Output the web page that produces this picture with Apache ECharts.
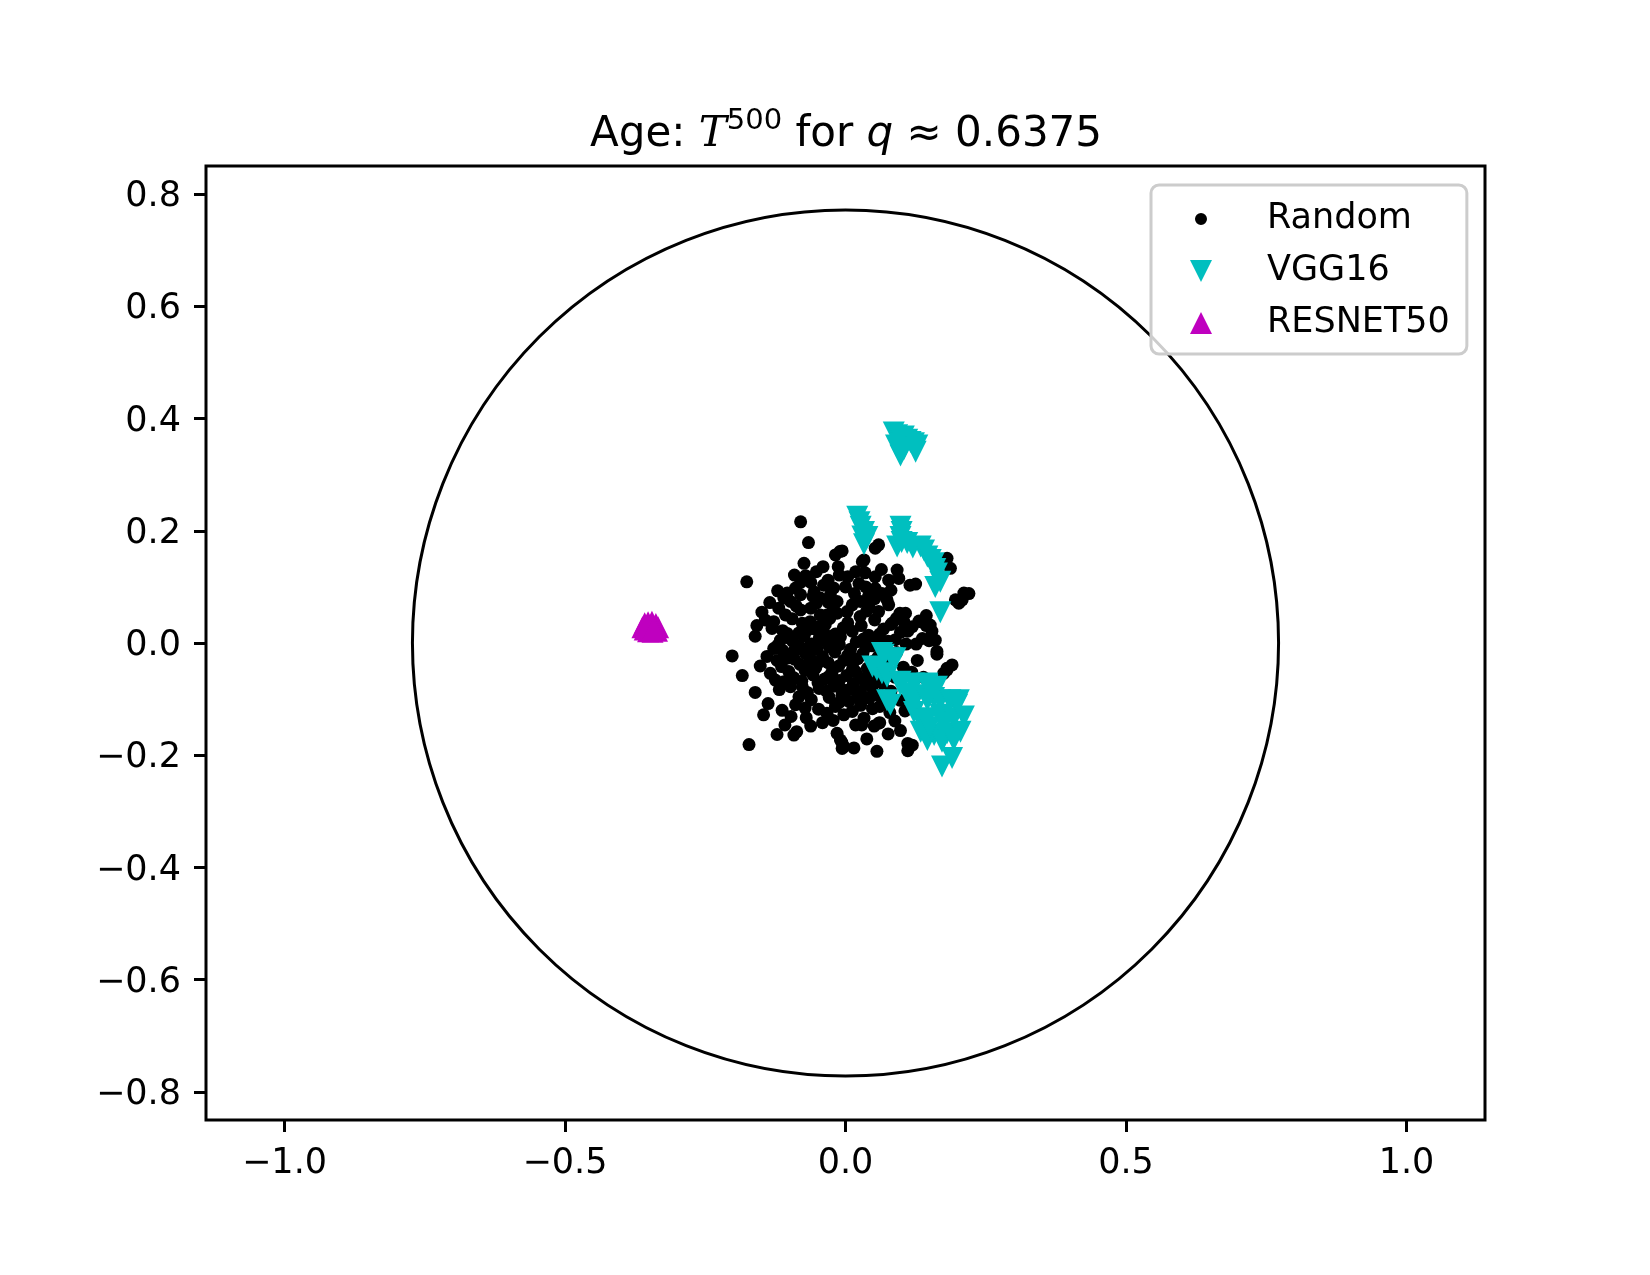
<!DOCTYPE html>
<html><head><meta charset="utf-8">
<script src="https://cdn.jsdelivr.net/npm/echarts@6/dist/echarts.min.js"></script>
<style>html,body{margin:0;padding:0;background:#fff}#c{width:1650px;height:1275px}</style>
</head><body><div id="c"></div><script>
const xTicks = [-1.0, -0.5, 0.0, 0.5, 1.0];
const yTicks = [-0.8, -0.6, -0.4, -0.2, 0.0, 0.2, 0.4, 0.6, 0.8];
const circleData = [[0, 0, 0.772]];

const randomPts = [
[-0.080,0.216],[-0.066,0.179],[-0.176,0.109],[-0.202,-0.023],[-0.184,-0.058],[-0.172,-0.181],[-0.138,-0.108],[-0.122,-0.163],
[-0.092,-0.164],[-0.087,-0.158],[-0.070,-0.133],[-0.113,-0.120],[-0.097,-0.131],[-0.089,-0.110],[-0.083,-0.096],[-0.077,-0.078],
[-0.095,-0.063],[-0.110,-0.069],[-0.125,-0.066],[-0.134,-0.054],[-0.140,-0.024],[-0.128,-0.010],[-0.104,-0.027],[-0.092,-0.015],
[-0.065,-0.010],[-0.062,-0.039],[-0.045,-0.033],[-0.030,-0.060],[-0.033,-0.125],[-0.018,-0.113],[-0.006,-0.093],[0.003,-0.084],
[-0.003,-0.128],[-0.015,-0.161],[-0.009,-0.173],[-0.003,-0.185],[0.015,-0.187],[0.056,-0.193],[0.111,-0.192],[0.111,-0.179],
[0.119,-0.182],[0.061,-0.142],[0.018,-0.146],[0.033,-0.134],[0.059,-0.143],[0.021,-0.096],[0.033,-0.099],[0.018,-0.051],
[0.163,-0.015],[0.181,-0.045],[0.175,-0.054],[0.190,-0.039],[0.149,0.004],[0.134,0.038],[0.144,0.031],[0.151,0.032],
[0.140,0.041],[0.115,0.103],[0.097,0.053],[0.107,0.053],[0.104,0.038],[0.119,0.029],[0.137,0.008],[0.160,0.005],
[0.211,0.089],[0.220,0.088],[0.208,0.077],[0.202,0.071],[0.181,0.151],[0.187,0.133],[0.172,0.149],[0.053,0.169],
[0.059,0.175],[0.033,0.148],[0.030,0.145],[0.053,0.118],[0.077,0.112],[0.092,0.130],[0.095,0.115],[0.125,0.105],
[0.024,0.106],[0.036,0.100],[0.053,0.097],[0.065,0.088],[0.074,0.077],[0.077,0.068],[0.027,0.074],[0.042,0.065],
[0.059,0.056],[-0.010,0.163],[-0.006,0.164],[-0.018,0.157],[-0.040,0.136],[-0.013,0.136],[-0.074,0.142],[-0.071,0.120],
[-0.080,0.108],[-0.062,0.108],[-0.039,0.103],[0.000,0.100],[-0.104,0.089],[-0.110,0.080],[-0.098,0.074],[-0.080,0.086],
[-0.056,0.091],[-0.045,0.080],[-0.027,0.086],[-0.015,0.074],[-0.149,0.055],[-0.143,0.041],[-0.131,0.026],[-0.119,0.062],
[-0.107,0.050],[-0.080,0.059],[-0.062,0.062],[-0.045,0.050],[-0.033,0.050],[-0.015,0.053],[0.003,0.056],[-0.104,0.017],
[-0.116,0.005],[-0.077,0.035],[-0.068,0.023],[-0.050,0.029],[-0.039,0.020],[-0.027,0.008],[-0.009,0.011],
[-0.095,0.043],[-0.063,0.038],[-0.028,0.044],[0.004,0.036],[0.026,0.047],[0.052,0.041],[0.081,0.033],
[-0.112,0.022],[-0.083,0.018],[-0.052,0.024],[-0.018,0.016],[0.012,0.021],[0.041,0.014],[0.068,0.025],[0.098,0.019],
[-0.121,-0.004],[-0.094,0.003],[-0.061,-0.002],[-0.038,0.004],[-0.011,-0.003],[0.019,0.002],[0.047,-0.005],[0.076,0.003],[0.108,-0.002],
[-0.103,-0.021],[-0.072,-0.018],[-0.041,-0.024],[-0.019,-0.016],[0.004,-0.022],[0.031,-0.019],[0.058,-0.025],[0.091,-0.017],
[-0.114,-0.042],[-0.081,-0.038],[-0.053,-0.044],[-0.012,-0.041],[0.013,-0.036],[0.039,-0.045],[0.071,-0.039],[0.103,-0.043],
[-0.092,-0.062],[-0.058,-0.057],[-0.037,-0.064],[0.002,-0.058],[0.027,-0.063],[0.055,-0.068],[0.088,-0.061],
[-0.118,-0.083],[-0.098,-0.078],[-0.047,-0.081],[-0.021,-0.077],[0.018,-0.084],[0.047,-0.079],[0.081,-0.086],
[-0.061,-0.101],[-0.029,-0.097],[0.006,-0.104],[0.043,-0.098],[0.068,-0.106],[0.097,-0.102],
[-0.048,-0.118],[0.012,-0.122],[0.048,-0.117],[0.079,-0.124],[0.106,-0.121],
[-0.041,-0.142],[-0.022,-0.138],[0.029,-0.146],[0.088,-0.139],
[-0.031,0.112],[0.004,0.118],[0.018,0.127],[-0.052,0.127],[0.064,0.131],[0.081,0.094],[-0.021,0.098],[0.041,0.083],
[-0.091,0.121],[-0.121,0.093],[-0.135,0.072],[-0.158,0.031],[-0.161,0.012],[-0.152,-0.041],[-0.161,-0.088],[-0.146,-0.128],
[-0.108,-0.146],[-0.062,-0.148],[0.051,-0.148],[-0.006,-0.178],[-0.006,-0.188],[0.038,-0.171],[0.076,-0.162],[0.098,-0.156],
[0.084,0.036],[0.111,0.021],[0.126,-0.002],[0.144,0.049],[0.154,0.021],[0.131,0.039],[0.196,0.077],[0.181,-0.048],
[0.163,-0.020],[0.128,-0.031],[0.118,-0.052],[0.139,-0.061],
[-0.088,0.066],[-0.052,0.071],[-0.022,0.063],[0.012,0.068],[0.038,0.057],
[-0.128,0.038],[-0.071,0.029],[-0.036,0.033],[-0.004,0.027],[0.028,0.031],[0.061,0.016],[0.091,0.044],
[-0.101,0.009],[-0.074,0.012],[-0.047,0.008],[-0.025,0.012],[0.032,0.007],[0.058,0.011],[0.089,0.006],
[-0.112,-0.013],[-0.082,-0.006],[-0.051,-0.011],[-0.029,-0.007],[0.009,-0.011],[0.036,-0.008],[0.066,-0.012],
[-0.122,-0.031],[-0.091,-0.029],[-0.063,-0.027],[-0.031,-0.035],[-0.003,-0.031],[0.022,-0.028],[0.049,-0.033],[0.081,-0.028],
[-0.101,-0.051],[-0.072,-0.049],[-0.024,-0.052],[0.012,-0.048],[0.041,-0.056],[0.076,-0.052],
[-0.078,-0.068],[-0.049,-0.071],[-0.011,-0.067],[0.014,-0.072],[0.036,-0.074],[0.066,-0.072],
[-0.068,-0.088],[-0.034,-0.086],[-0.008,-0.082],[0.028,-0.091],[0.058,-0.093],
[-0.072,-0.116],[0.027,-0.111],[0.061,-0.113],[-0.011,-0.106],
[-0.058,0.083],[-0.031,0.073],[0.016,0.088],[0.052,0.079],[-0.089,0.098],[-0.011,0.121],[0.035,0.125]
];

const vggPts = [
[0.086,0.375],[0.092,0.370],[0.098,0.365],[0.104,0.368],[0.110,0.362],[0.116,0.358],[0.122,0.356],[0.128,0.352],
[0.098,0.334],[0.125,0.341],[0.090,0.352],[0.104,0.345],
[0.021,0.225],[0.025,0.215],[0.027,0.207],[0.033,0.198],[0.039,0.189],[0.033,0.176],[0.030,0.190],
[0.098,0.207],[0.100,0.198],[0.098,0.189],[0.092,0.172],[0.100,0.180],[0.110,0.178],[0.120,0.170],[0.134,0.172],
[0.140,0.165],[0.146,0.154],[0.152,0.148],[0.157,0.142],[0.163,0.124],[0.160,0.132],[0.169,0.109],[0.160,0.100],[0.169,0.055],
[0.065,-0.018],[0.068,-0.021],[0.083,-0.027],[0.089,-0.027],[0.048,-0.042],[0.056,-0.048],[0.065,-0.054],[0.074,-0.060],
[0.074,-0.102],[0.080,-0.110],[0.098,-0.069],[0.098,-0.075],[0.122,-0.072],[0.122,-0.075],[0.146,-0.072],[0.146,-0.075],
[0.163,-0.078],[0.128,-0.093],[0.158,-0.098],[0.187,-0.104],[0.199,-0.110],[0.122,-0.102],[0.146,-0.102],[0.169,-0.102],
[0.187,-0.102],[0.202,-0.102],[0.122,-0.123],[0.146,-0.134],[0.169,-0.128],[0.193,-0.134],[0.211,-0.131],[0.134,-0.158],
[0.158,-0.164],[0.181,-0.161],[0.205,-0.158],[0.146,-0.173],[0.172,-0.176],[0.193,-0.173],[0.172,-0.220],[0.190,-0.205],
[0.134,-0.137],[0.110,-0.090],[0.150,-0.150],[0.175,-0.145]
];

const resnetPts = [
[-0.362,0.028],[-0.358,0.035],[-0.352,0.037],[-0.345,0.038],[-0.338,0.034],[-0.334,0.028],[-0.336,0.022],[-0.344,0.020],
[-0.352,0.021],[-0.358,0.024],[-0.348,0.030],[-0.342,0.027]
];

const FONT = 'DejaVu Sans';
const fmt = v => (v < 0 ? '\u2212' : '') + Math.abs(v).toFixed(1);

const chart = echarts.init(document.getElementById('c'), null, {renderer: 'canvas'});
chart.setOption({
  animation: false,
  backgroundColor: '#fff',
  title: {
    left: 590, top: 107, padding: 0,
    text: '{a|Age: }{t|T}{s|500}{a| for }{q|q}{a| \u2248 0.6375}',
    textStyle: {
      fontWeight: 'normal',
      rich: {
        a: {fontFamily: FONT, fontWeight: 'normal', fontSize: 42, color: '#000', lineHeight: 56, verticalAlign: 'middle'},
        t: {fontFamily: 'DejaVu Serif', fontWeight: 'normal', fontStyle: 'italic', fontSize: 42, color: '#000', lineHeight: 56, verticalAlign: 'middle'},
        s: {fontFamily: FONT, fontWeight: 'normal', fontSize: 29, color: '#000', lineHeight: 30, verticalAlign: 'top'},
        q: {fontFamily: FONT, fontWeight: 'normal', fontStyle: 'italic', fontSize: 42, color: '#000', lineHeight: 56, verticalAlign: 'middle'}
      }
    }
  },
  legend: {
    orient: 'vertical', left: 1151, top: 185,
    padding: [14, 17, 11, 39],
    itemWidth: 68, itemHeight: 22, itemGap: 12,
    symbolRotate: 0,
    backgroundColor: 'rgba(255,255,255,0.8)',
    borderColor: '#cccccc', borderWidth: 3, borderRadius: 8,
    textStyle: {fontFamily: FONT, fontSize: 35, color: '#000', lineHeight: 40, padding: [0, 0, 0, 27]},
    data: [
      {name: 'Random', icon: 'path://M0,0L0.01,0L0.01,0.01Z M21.99,21.99L22,21.99L22,22Z M5,11A6,6,0,1,1,17,11A6,6,0,1,1,5,11Z'},
      {name: 'VGG16', icon: 'path://M0,0L22,0L11,22Z'},
      {name: 'RESNET50', icon: 'path://M11,0L22,22L0,22Z'}
    ]
  },
  grid: {left: 206, right: 165, top: 166, bottom: 155, show: true, borderColor: '#000', borderWidth: 3, backgroundColor: 'transparent'},
  xAxis: {
    type: 'value', min: -1.14, max: 1.14, position: 'bottom',
    axisLine: {show: false, onZero: false},
    splitLine: {show: false},
    axisTick: {show: true, length: 12, lineStyle: {color: '#000', width: 3}, customValues: xTicks},
    axisLabel: {customValues: xTicks, formatter: fmt, fontFamily: FONT, fontSize: 35, color: '#000', margin: 26}
  },
  yAxis: {
    type: 'value', min: -0.85, max: 0.85, position: 'left',
    axisLine: {show: false, onZero: false},
    splitLine: {show: false},
    axisTick: {show: true, length: 12, lineStyle: {color: '#000', width: 3}, customValues: yTicks},
    axisLabel: {customValues: yTicks, formatter: fmt, fontFamily: FONT, fontSize: 35, color: '#000', margin: 25, verticalAlign: 'top', lineHeight: 6}
  },
  series: [
    {
      type: 'custom', name: 'circle', silent: true, data: circleData,
      renderItem: function (params, api) {
        const c = api.coord([api.value(0), api.value(1)]);
        const r = api.size([api.value(2), 0])[0];
        return {type: 'circle', shape: {cx: c[0], cy: c[1], r: r}, style: {fill: 'none', stroke: '#000', lineWidth: 3}};
      }
    },
    {type: 'scatter', name: 'Random', data: randomPts, symbol: 'circle', symbolSize: 13,
      itemStyle: {color: '#000', opacity: 1}, emphasis: {disabled: true}},
    {type: 'scatter', name: 'VGG16', data: vggPts, symbol: 'triangle', symbolRotate: 180, symbolSize: 22,
      itemStyle: {color: '#00bfbf', opacity: 1}, emphasis: {disabled: true}},
    {type: 'scatter', name: 'RESNET50', data: resnetPts, symbol: 'triangle', symbolSize: 22,
      itemStyle: {color: '#bf00bf', opacity: 1}, emphasis: {disabled: true}}
  ]
});
</script></body></html>
